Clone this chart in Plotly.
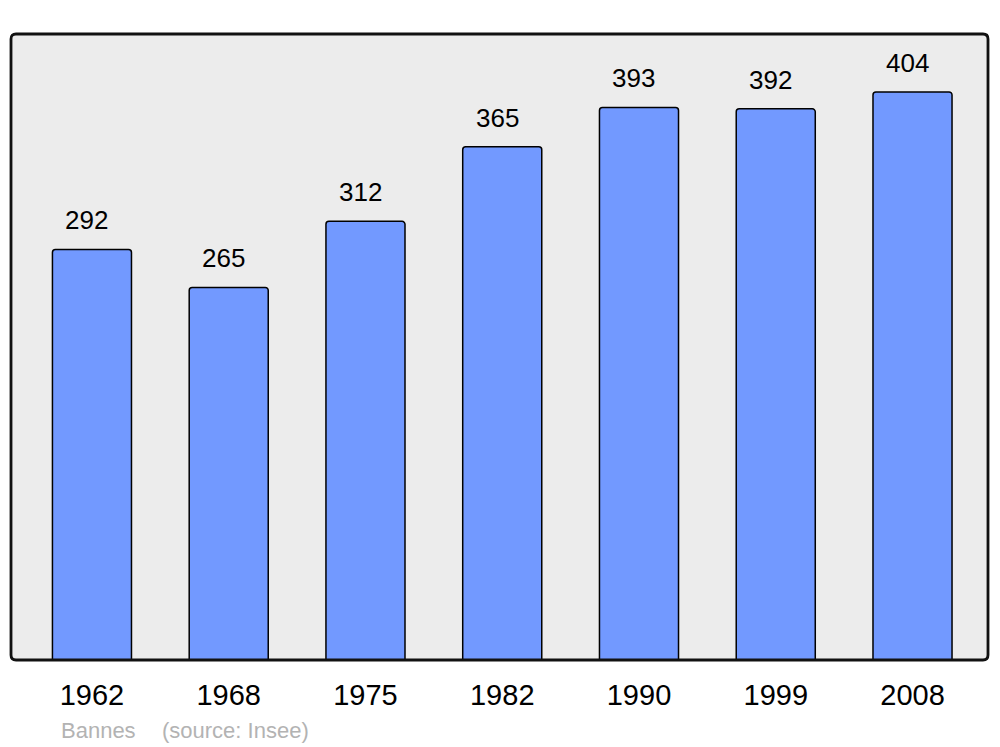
import plotly.graph_objects as go

years = ["1962", "1968", "1975", "1982", "1990", "1999", "2008"]
population = [292, 265, 312, 365, 393, 392, 404]
positions = list(range(len(years)))
caption_place = "Bannes"
caption_source = "(source: Insee)"

FONT = "Liberation Sans, Arial, sans-serif"
W, H = 992, 739
ML, MR, MT, MB = 3, 12, 26, 87
PW, PH = W - ML - MR, H - MT - MB

fig = go.Figure()
fig.add_trace(go.Bar(
    x=positions, y=population, width=0.578,
    marker=dict(color="#7299ff", line=dict(color="#000000", width=1.5), cornerradius=3),
    hoverinfo="skip",
))

for xi, v in zip(positions, population):
    fig.add_annotation(x=xi, y=v, text=str(v), showarrow=False, xanchor="center",
                       yanchor="bottom", yshift=12, xshift=-5,
                       font=dict(family=FONT, size=26, color="#000000"))

fig.add_annotation(xref="paper", yref="paper", x=-2 / PW + 0.0512, y=-0.089, xanchor="left", yanchor="top",
                   text=caption_place, showarrow=False,
                   font=dict(family=FONT, size=22, color="#b3b3b3"))
fig.add_annotation(xref="paper", yref="paper", x=0.1525, y=-0.089, xanchor="left", yanchor="top",
                   text=caption_source, showarrow=False,
                   font=dict(family=FONT, size=22, color="#b3b3b3"))

# rounded plot frame
rx, ry = 5 / PW, 5 / PH
frame = (f"M {rx},0 L {1-rx},0 Q 1,0 1,{ry} L 1,{1-ry} Q 1,1 {1-rx},1 "
         f"L {rx},1 Q 0,1 0,{1-ry} L 0,{ry} Q 0,0 {rx},0 Z")
fig.add_shape(type="path", xref="paper", yref="paper", path=frame,
              line=dict(color="#111111", width=2.8), layer="above")

fig.update_xaxes(range=[-0.592, 6.552], tickvals=positions, ticktext=years, showgrid=False,
                 zeroline=False, showline=False, ticks="", ticklabelstandoff=15,
                 tickfont=dict(family=FONT, size=29, color="#000000"))
fig.update_yaxes(range=[0, 445.2], showgrid=False, zeroline=False, showticklabels=False, showline=False)

# page body has an 8px default margin; size the figure so the plot lands where the reference has it
fig.update_layout(
    width=W, height=H, margin=dict(l=ML, r=MR, t=MT, b=MB),
    plot_bgcolor="#ececec", paper_bgcolor="#ffffff", showlegend=False,
)
fig.write_html("out.html")
